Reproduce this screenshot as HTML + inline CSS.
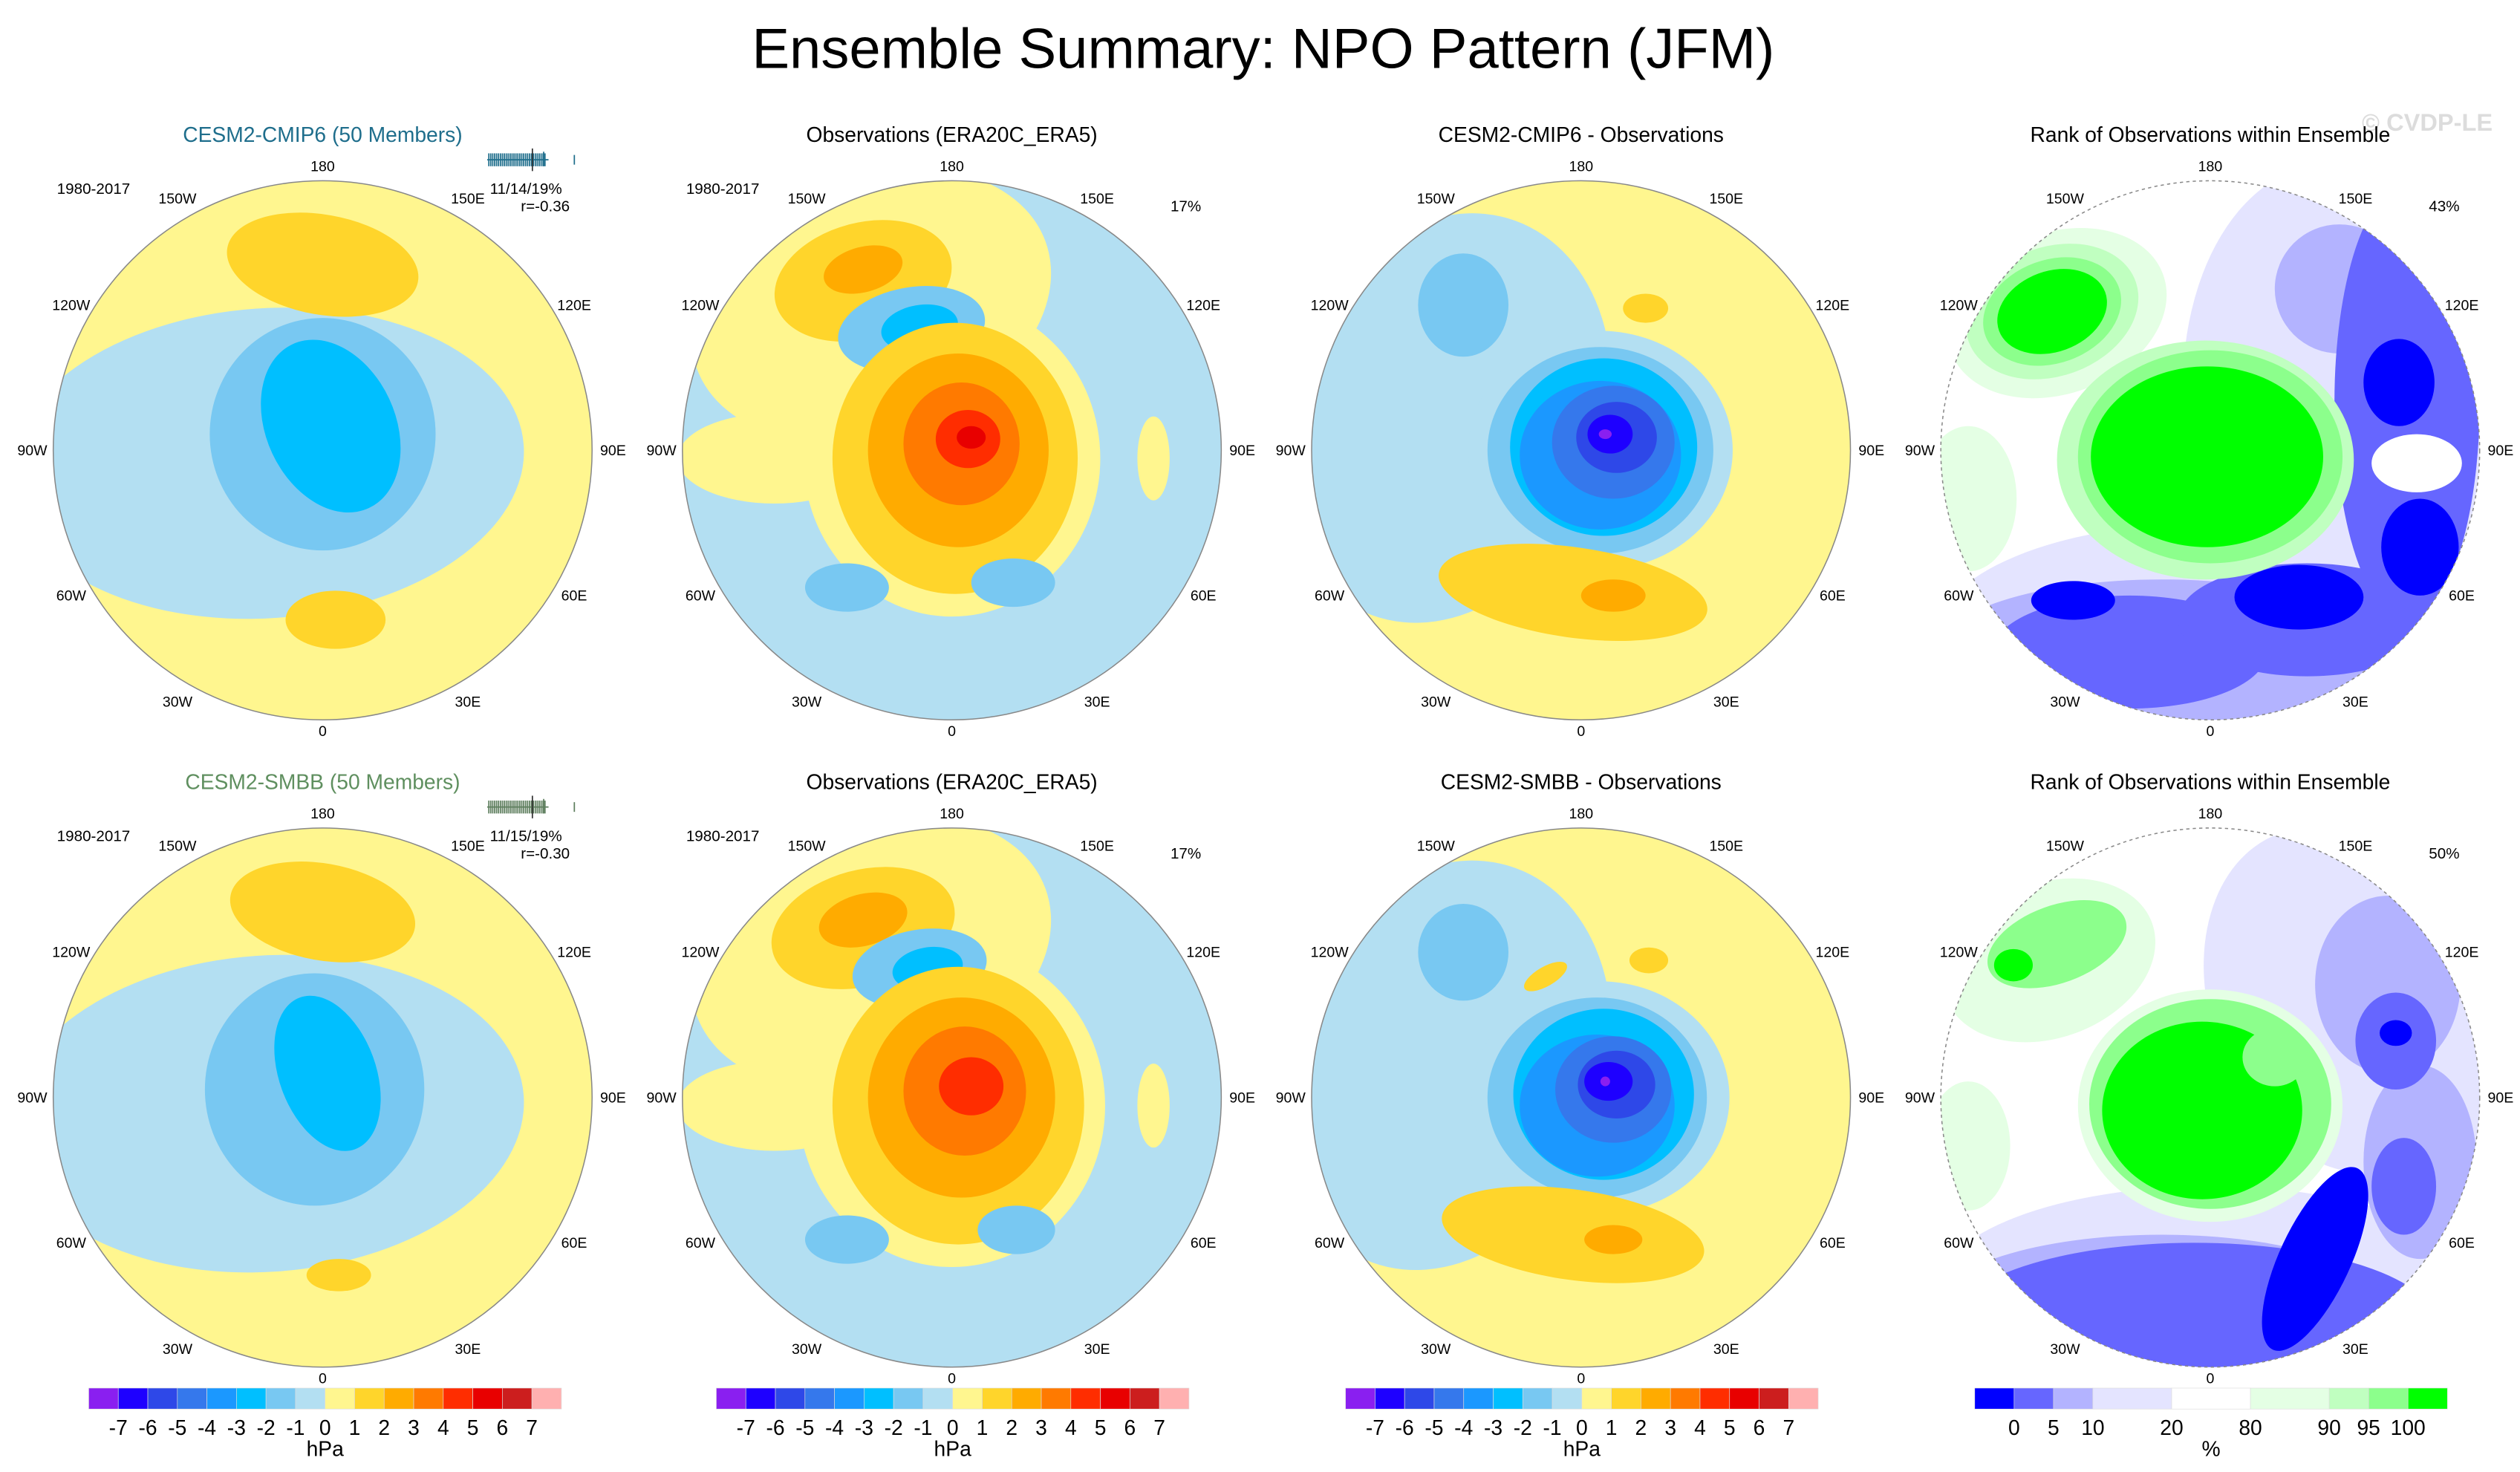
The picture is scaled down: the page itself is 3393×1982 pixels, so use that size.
<!DOCTYPE html>
<html><head><meta charset="utf-8"><title>Ensemble Summary: NPO Pattern (JFM)</title>
<style>html,body{margin:0;padding:0;background:#fff}svg{display:block}text{font-family:"Liberation Sans",Arial,sans-serif}</style>
</head><body>
<svg id="fig" width="3393" height="1982" viewBox="0 0 1562 912" preserveAspectRatio="none" xmlns="http://www.w3.org/2000/svg">
<rect width="1562" height="912" fill="#fff"/>
<text x="783" y="42" font-size="35" text-anchor="middle">Ensemble Summary: NPO Pattern (JFM)</text>
<text x="1545" y="81" font-size="15" font-weight="bold" text-anchor="end" fill="#dcdcdc">© CVDP-LE</text>
</svg>
<script>
// colour scales
const hpaColors = ["#8a1ff0","#1e00ff","#2e48e8","#3578ec","#1b98ff","#00bfff","#78c8f2","#b3dff2","#fff68f","#ffd52b","#ffab00","#ff7a00","#ff2d00","#e80000","#cc1e1e","#ffb0b0"];
const hpaTicks = ["-7","-6","-5","-4","-3","-2","-1","0","1","2","3","4","5","6","7"];
const rankColors = ["#0000ff","#6666ff","#b3b3ff","#e4e4ff","#ffffff","#e4ffe4","#c0ffc0","#8cff8c","#00ff00"];
const rankWidths = [1,1,1,2,2,2,1,1,1];
const rankTicks = ["0","5","10","20","80","90","95","100"];
const lonLabels = ["180","150E","120E","90E","60E","30E","0","30W","60W","90W","120W","150W"];
const lonValues = [180,150,120,90,60,30,0,-30,-60,-90,-120,-150];
// anomaly fields: [dx, dy, rx, ry, rotation, colourIndex]
const field1 = [[-35,8,160,96,-4,7],[0,-10,70,72,0,6],[5,-15,40,56,-25,5],[0,-115,60,31,10,9],[8,105,31,18,0,9]];
const field2 = [[-50,-90,115,80,-20,8],[0,5,92,98,0,8],[-110,5,60,28,0,8],[-55,-105,56,36,-15,9],[-55,-112,25,14,-15,10],[-25,-75,46,26,-10,6],[-20,-76,24,14,-10,5],[2,5,76,84,0,9],[4,0,56,60,0,10],[6,-4,36,38,0,11],[10,-7,20,18,0,12],[12,-8,9,7,0,13],[-65,85,26,15,0,6],[38,82,26,15,0,6],[125,5,10,26,0,8]];
const field3 = [[-85,-20,100,130,20,7],[12,0,82,74,0,7],[-73,-90,28,32,0,6],[12,0,70,64,0,6],[14,-2,58,55,0,5],[12,3,50,46,0,4],[20,-5,38,35,0,3],[22,-8,25,22,0,2],[18,-10,14,12,0,1],[15,-10,4,3,0,0],[-5,88,84,28,8,9],[20,90,20,10,0,10],[40,-88,14,9,0,9]];
const field4 = [[95,-10,110,170,-10,3],[0,115,170,70,0,3],[-30,125,140,45,0,2],[80,-100,40,40,0,2],[122,-30,45,135,0,1],[-50,125,85,35,0,1],[60,105,80,35,0,1],[-85,93,26,12,0,0],[55,91,40,20,0,0],[117,-42,22,27,0,0],[130,60,24,30,0,0],[128,8,28,18,0,4],[-95,-85,70,50,-20,5],[-150,30,30,45,0,5],[-98,-86,55,40,-20,6],[-98,-86,44,32,-20,7],[-98,-86,35,25,-20,8],[-3,6,92,74,0,6],[0,4,82,66,0,7],[-2,4,72,56,0,8]];
const field5 = [[-35,10,160,98,-4,7],[-5,-5,68,72,0,6],[3,-15,30,50,-20,5],[0,-115,58,30,10,9],[10,110,20,10,0,9]];
const field6 = [[-50,-90,115,80,-20,8],[0,5,95,100,0,8],[-110,5,60,28,0,8],[-55,-105,58,36,-15,9],[-55,-110,28,16,-15,10],[-20,-80,42,24,-10,6],[-15,-80,22,13,-10,5],[4,5,78,86,0,9],[6,0,58,62,0,10],[8,-4,38,40,0,11],[12,-7,20,18,0,12],[-65,88,26,15,0,6],[40,82,24,15,0,6],[125,5,10,26,0,8]];
const field7 = [[-85,-20,100,130,20,7],[12,0,80,72,0,7],[-73,-90,28,30,0,6],[10,0,68,62,0,6],[14,-2,56,53,0,5],[10,5,48,44,0,4],[20,-5,36,33,0,3],[22,-8,24,21,0,2],[17,-10,15,12,0,1],[15,-10,3,3,0,0],[-5,85,82,28,8,9],[20,88,18,9,0,10],[42,-85,12,8,0,9],[-22,-75,15,6,-30,9]];
const field8 = [[80,-60,80,110,-20,3],[150,20,40,80,0,3],[0,120,170,65,0,3],[-30,130,140,45,0,2],[110,-70,45,55,0,2],[130,40,35,60,0,2],[115,-35,25,30,0,1],[-10,140,150,50,0,1],[120,55,20,30,0,1],[65,100,22,62,25,0],[115,-40,10,8,0,0],[-100,-85,68,48,-20,5],[-150,30,26,40,0,5],[-95,-95,45,24,-20,7],[-122,-82,12,10,0,8],[0,5,82,72,0,5],[0,4,75,65,0,7],[-5,8,62,55,0,8],[40,-25,20,18,0,7]];

const svg = document.getElementById('fig');
const NS = 'http://www.w3.org/2000/svg';
const R = 167;
function mk(tag, attrs, parent){const e=document.createElementNS(NS,tag);for(const k in attrs)e.setAttribute(k,attrs[k]);(parent||svg).appendChild(e);return e;}
function txt(x,y,s,size,parent,anchor,fill){const t=mk('text',{x:x,y:y,'font-size':size,'text-anchor':anchor||'middle',fill:fill||'#000'},parent);t.textContent=s;return t;}
function lonPos(lon,rad){const a=lon*Math.PI/180;return [rad*Math.sin(a), rad*Math.cos(a)];}

const panels = [
 {cx:200,cy:279,title:'CESM2-CMIP6 (50 Members)',tcol:'#1f6e8c',field:field1,bg:8,pal:hpaColors,years:true,stats:['11/14/19%','r=-0.36'],strip:'#1f6e8c'},
 {cx:590,cy:279,title:'Observations (ERA20C_ERA5)',field:field2,bg:7,pal:hpaColors,years:true,pct:'17%'},
 {cx:980,cy:279,title:'CESM2-CMIP6 - Observations',field:field3,bg:8,pal:hpaColors},
 {cx:1370,cy:279,title:'Rank of Observations within Ensemble',field:field4,bg:4,pal:rankColors,pct:'43%',rank:true},
 {cx:200,cy:680,title:'CESM2-SMBB (50 Members)',tcol:'#5f8f5f',field:field5,bg:8,pal:hpaColors,years:true,stats:['11/15/19%','r=-0.30'],strip:'#5f7f5f'},
 {cx:590,cy:680,title:'Observations (ERA20C_ERA5)',field:field6,bg:7,pal:hpaColors,years:true,pct:'17%'},
 {cx:980,cy:680,title:'CESM2-SMBB - Observations',field:field7,bg:8,pal:hpaColors},
 {cx:1370,cy:680,title:'Rank of Observations within Ensemble',field:field8,bg:4,pal:rankColors,pct:'50%',rank:true}
];

panels.forEach((p,i)=>{
  const g=mk('g',{});
  
  
  const title=txt(p.cx,p.cy-191,p.title,13,g,'middle',p.tcol||'#000');
  
  
  const clip=mk('clipPath',{id:'clip'+i},g);
  mk('circle',{cx:p.cx,cy:p.cy,r:R},clip);
  const mg=mk('g',{'clip-path':'url(#clip'+i+')'},g);
  
  
  mk('rect',{x:p.cx-R,y:p.cy-R,width:2*R,height:2*R,fill:p.pal[p.bg]},mg);
  p.field.forEach(b=>{
    const e=mk('ellipse',{cx:p.cx+b[0],cy:p.cy+b[1],rx:b[2],ry:b[3],transform:'rotate('+b[4]+' '+(p.cx+b[0])+' '+(p.cy+b[1])+')',fill:p.pal[b[5]]},mg);
    
    
  });
  const ring=mk('circle',{cx:p.cx,cy:p.cy,r:R,fill:'none',stroke:'#888','stroke-width':0.7,'stroke-dasharray':p.rank?'2 2':'none'},g);
  
  
  lonValues.forEach((lv,k)=>{
    const q=lonPos(lv,R+13);
    let dx=q[0],dy=q[1];
    if(lv===180) dy=-R-9; if(lv===0) dy=R+7;
    const t=txt(p.cx+dx,p.cy+dy+3,lonLabels[k],9,g);
    
    
  });
  if(p.years){const t=txt(p.cx-142,p.cy-159,'1980-2017',9.5,g);}
  if(p.pct){const t=txt(p.cx+145,p.cy-148,p.pct,9.5,g);}
  if(p.stats){
    const t1=txt(p.cx+126,p.cy-159,p.stats[0],9.5,g);
    const t2=txt(p.cx+138,p.cy-148,p.stats[1],9.5,g);
    const sg=mk('g',{stroke:p.strip,'stroke-width':0.8},g);
    
    
    mk('line',{x1:p.cx+102,x2:p.cx+140,y1:p.cy-180,y2:p.cy-180},sg);
    for(let k=0;k<30;k++){const x=p.cx+103+k*1.2;mk('line',{x1:x,x2:x,y1:p.cy-184,y2:p.cy-176},sg);}
    mk('line',{x1:p.cx+130,x2:p.cx+130,y1:p.cy-187,y2:p.cy-173,stroke:'#333'},sg);
    mk('line',{x1:p.cx+137,x2:p.cx+137,y1:p.cy-185,y2:p.cy-176},sg);
    mk('line',{x1:p.cx+156,x2:p.cx+156,y1:p.cy-183,y2:p.cy-177},sg);
  }
});

// colour bars
function hpaBar(x0){
  const g=mk('g',{});
  
  
  const w=293/hpaColors.length;
  hpaColors.forEach((c,k)=>{const r=mk('rect',{x:x0+k*w,y:860,width:w,height:13,fill:c,stroke:'#ddd','stroke-width':0.3},g);});
  hpaTicks.forEach((s,k)=>{const t=txt(x0+(k+1)*w,889,s,13,g);});
  const u=txt(x0+146.5,902,'hPa',13,g);
}
hpaBar(55);hpaBar(444);hpaBar(834);
(function(){
  const g=mk('g',{});
  
  
  const x0=1224,tot=rankWidths.reduce((a,b)=>a+b,0),u=293/tot;let x=x0;const edges=[];
  rankColors.forEach((c,k)=>{const r=mk('rect',{x:x,y:860,width:rankWidths[k]*u,height:13,fill:c,stroke:'#ddd','stroke-width':0.3},g);x+=rankWidths[k]*u;edges.push(x);});
  rankTicks.forEach((s,k)=>{const t=txt(edges[k],889,s,13,g);});
  const t=txt(x0+146.5,902,'%',13,g);
})();
</script>
</body></html>
